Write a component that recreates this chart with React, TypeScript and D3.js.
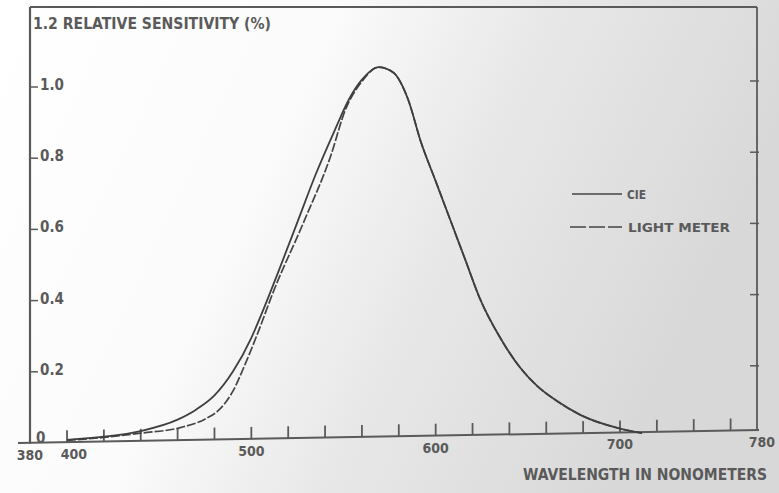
import { useEffect, useRef } from 'react'
import * as d3 from 'd3'

// CIE curve (solid)
const cieNm = [400, 420, 440, 460, 470, 480, 490, 500, 505, 515, 525, 535, 545, 553, 560, 569, 577, 585, 592, 600, 608, 616, 624, 635, 646, 655, 665, 679, 700, 712]
const cieVal = [0.003, 0.012, 0.028, 0.06, 0.088, 0.128, 0.195, 0.29, 0.35, 0.48, 0.615, 0.75, 0.87, 0.96, 1.015, 1.05, 1.035, 0.96, 0.84, 0.73, 0.62, 0.51, 0.4, 0.29, 0.205, 0.155, 0.115, 0.072, 0.035, 0.022]

// light meter curve (dashed)
const meterNm = [400, 420, 440, 461, 475, 483, 490, 497, 504, 512, 528, 543, 551, 560, 569, 577, 585, 592, 600, 608, 616, 624, 635, 646, 655, 665, 679, 700, 712]
const meterVal = [0.002, 0.01, 0.022, 0.037, 0.062, 0.09, 0.14, 0.22, 0.31, 0.42, 0.61, 0.8, 0.93, 1.01, 1.05, 1.035, 0.96, 0.84, 0.73, 0.62, 0.51, 0.4, 0.29, 0.205, 0.155, 0.115, 0.072, 0.035, 0.022]

const xLabelValues = [380, 400, 500, 600, 700, 780]
const xLabels = ['380', '400', '500', '600', '700', '780']
const yTicks = [0.2, 0.4, 0.6, 0.8, 1.0]
const yLabels = ['0.2', '0.4', '0.6', '0.8', '1.0']

const W = 779
const H = 493
const plot = { left: 30, right: 757, top: 7, bottom: 441 }
const ink = '#5a5a5a'
const font = '"DejaVu Sans Condensed", "Liberation Sans Narrow", sans-serif'

const App = () => {
  const svgRef = useRef<SVGSVGElement | null>(null)

  useEffect(() => {
    if (!svgRef.current) return
    const svg = d3.select(svgRef.current)
    svg.selectAll('*').remove()

    const x = d3.scaleLinear().domain([400, 700]).range([67, 620])
    const y = d3.scaleLinear().domain([0, 1]).range([plot.bottom, plot.bottom - 356])

    // background wash: white on the left, grey towards the right
    const defs = svg.append('defs')
    const grad = defs.append('linearGradient')
      .attr('id', 'bg')
      .attr('x1', '0').attr('y1', '0').attr('x2', '1').attr('y2', '0.3')
    grad.append('stop').attr('offset', '0').attr('stop-color', '#ffffff')
    grad.append('stop').attr('offset', '0.4').attr('stop-color', '#fbfbfb')
    grad.append('stop').attr('offset', '0.65').attr('stop-color', '#e8e8e8')
    grad.append('stop').attr('offset', '1').attr('stop-color', '#d8d8d8')
    svg.append('rect').attr('width', W).attr('height', H).attr('fill', 'url(#bg)')

    // x axis drifts up a little towards the right in the scan
    const axisY = (px: number) => 443 - (px - 18) * 13 / (plot.right - 18)

    // frame
    const frame = svg.append('g').attr('stroke', ink).attr('fill', 'none')
    frame.append('line')
      .attr('x1', plot.left).attr('x2', plot.left)
      .attr('y1', plot.top).attr('y2', axisY(plot.left) + 1)
      .attr('stroke-width', 2.2)
    frame.append('line')
      .attr('x1', plot.left).attr('x2', plot.right)
      .attr('y1', plot.top).attr('y2', plot.top)
      .attr('stroke-width', 2)
    frame.append('line')
      .attr('x1', plot.right).attr('x2', plot.right)
      .attr('y1', plot.top).attr('y2', axisY(plot.right))
      .attr('stroke-width', 1.8)
    frame.append('line')
      .attr('x1', 18).attr('x2', plot.right + 2)
      .attr('y1', axisY(18)).attr('y2', axisY(plot.right + 2))
      .attr('stroke-width', 2)

    // x minor ticks every 20 nm, pointing up
    const minor = d3.range(400, 761, 20)
    svg.append('g')
      .selectAll('line')
      .data(minor)
      .enter()
      .append('line')
      .attr('x1', d => x(d)).attr('x2', d => x(d))
      .attr('y1', d => axisY(x(d)))
      .attr('y2', d => axisY(x(d)) - 12)
      .attr('stroke', ink)
      .attr('stroke-width', 1.8)

    // x labels
    const labelX = (d: number, i: number) =>
      i === 0 ? 30 : i === xLabelValues.length - 1 ? 762 : x(d) + (d === 400 ? 7 : 0)
    svg.append('g')
      .selectAll('text')
      .data(xLabelValues)
      .enter()
      .append('text')
      .attr('x', (d, i) => labelX(d, i))
      .attr('y', (d, i) => axisY(labelX(d, i)) + 17)
      .attr('text-anchor', 'middle')
      .attr('font-family', font)
      .attr('font-size', 14)
      .attr('font-weight', 'bold')
      .attr('fill', ink)
      .text((_, i) => xLabels[i])

    // y ticks left + labels
    const yg = svg.append('g')
    yg.selectAll('line.l')
      .data(yTicks)
      .enter()
      .append('line')
      .attr('x1', plot.left).attr('x2', plot.left + 8)
      .attr('y1', d => y(d) + 2).attr('y2', d => y(d) + 2)
      .attr('stroke', ink).attr('stroke-width', 1.5)
    yg.selectAll('text')
      .data(yTicks)
      .enter()
      .append('text')
      .attr('x', 40)
      .attr('y', d => y(d) + 5)
      .attr('font-family', font)
      .attr('font-size', 15)
      .attr('font-weight', 'bold')
      .attr('fill', ink)
      .text((_, i) => yLabels[i])
    svg.append('text')
      .attr('x', 36).attr('y', 443)
      .attr('font-family', font).attr('font-size', 15).attr('font-weight', 'bold').attr('fill', ink)
      .text('0')

    // y ticks on the right border
    yg.selectAll('line.r')
      .data(yTicks)
      .enter()
      .append('line')
      .attr('x1', plot.right - 7).attr('x2', plot.right + 2)
      .attr('y1', d => y(d) - 4).attr('y2', d => y(d) - 4)
      .attr('stroke', ink).attr('stroke-width', 1.5)

    // title
    svg.append('text')
      .attr('x', 33).attr('y', 29)
      .attr('font-family', font).attr('font-size', 15).attr('font-weight', 'bold').attr('fill', ink)
      .attr('textLength', 238).attr('lengthAdjust', 'spacingAndGlyphs')
      .text('1.2 RELATIVE SENSITIVITY (%)')

    // x axis title
    svg.append('text')
      .attr('x', 523).attr('y', 480)
      .attr('font-family', font).attr('font-size', 15).attr('font-weight', 'bold').attr('fill', ink)
      .attr('textLength', 244).attr('lengthAdjust', 'spacingAndGlyphs')
      .text('WAVELENGTH IN NONOMETERS')

    // curves
    const line = d3.line<[number, number]>()
      .x(d => x(d[0]))
      .y(d => y(d[1]))
      .curve(d3.curveMonotoneX)

    const ciePts = cieNm.map((n, i) => [n, cieVal[i]] as [number, number])
    const meterPts = meterNm.map((n, i) => [n, meterVal[i]] as [number, number])

    svg.append('path')
      .datum(meterPts)
      .attr('fill', 'none')
      .attr('stroke', '#444')
      .attr('stroke-width', 1.7)
      .attr('stroke-dasharray', '9 2')
      .attr('d', line)

    svg.append('path')
      .datum(ciePts)
      .attr('fill', 'none')
      .attr('stroke', '#3f3f3f')
      .attr('stroke-width', 1.8)
      .attr('d', line)

    // legend
    const lg = svg.append('g')
      .attr('font-family', font).attr('font-size', 13).attr('font-weight', 'bold').attr('fill', ink)
    lg.append('line')
      .attr('x1', 572).attr('x2', 622).attr('y1', 194).attr('y2', 194)
      .attr('stroke', '#444').attr('stroke-width', 1.5)
    lg.append('text').attr('x', 627).attr('y', 199)
      .attr('textLength', 19).attr('lengthAdjust', 'spacingAndGlyphs')
      .text('CIE')
    lg.append('line')
      .attr('x1', 570).attr('x2', 622).attr('y1', 227).attr('y2', 227)
      .attr('stroke', '#444').attr('stroke-width', 1.5)
      .attr('stroke-dasharray', '16 3')
    lg.append('text').attr('x', 628).attr('y', 232)
      .attr('textLength', 102).attr('lengthAdjust', 'spacingAndGlyphs')
      .text('LIGHT METER')
  }, [])

  return (
    <svg
      ref={svgRef}
      width={W}
      height={H}
      style={{ position: 'absolute', left: 0, top: 0 }}
    />
  )
}

export default App
